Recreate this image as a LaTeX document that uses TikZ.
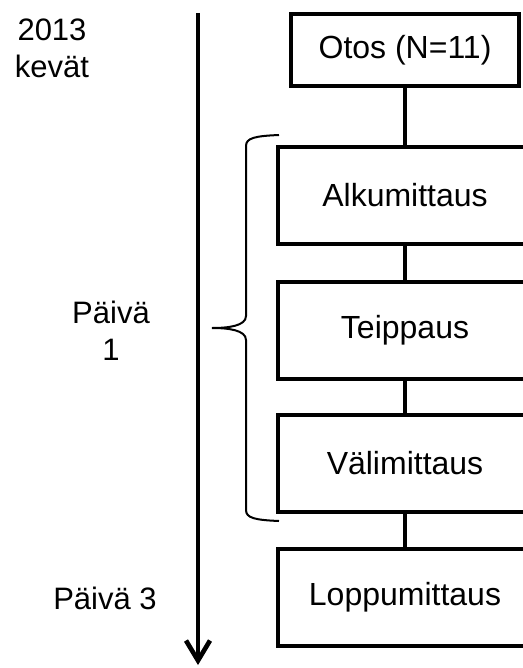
\documentclass[tikz,border=0pt]{standalone}
\usepackage{fontspec}
\setmainfont{Liberation Sans}
\usetikzlibrary{arrows.meta, positioning}

\begin{document}
\begin{tikzpicture}[x=0.5pt, y=-0.5pt,
  vaihe/.style={draw, line width=2.3pt, minimum width=127pt, minimum height=48.5pt, inner sep=0pt, font=\fontsize{16}{19}\selectfont},
  aika/.style={align=center, font=\fontsize{15.5}{18.3}\selectfont},
  yhteys/.style={line width=2.3pt}]
\clip (0,0) rectangle (523,668);

% aika-akseli
\coordinate (akselialku) at (198,13);
\coordinate (akseliloppu) at (198,665);
\draw[line width=2.3pt, -{Straight Barb[length=10pt,width=12pt]}] (akselialku) -- (akseliloppu);

% vaiheet
\node[vaihe, minimum width=114pt, minimum height=36pt] (otos) at (405,50) {Otos (N=11)};
\node[vaihe] (alku) at (405,195.5) {Alkumittaus};
\node[vaihe] (teippaus) at (405,330.5) {Teippaus};
\node[vaihe] (vali) at (405,463.5) {Välimittaus};
\node[vaihe] (loppu) at (405,597.5) {Loppumittaus};

\draw[yhteys] (otos) -- (alku);
\draw[yhteys] (alku) -- (teippaus);
\draw[yhteys] (teippaus) -- (vali);
\draw[yhteys] (vali) -- (loppu);

% aaltosulje
\draw[line width=1pt] (279,135) .. controls (255,136) and (246,138) .. (246,146)
  -- (246,316) .. controls (246,326) and (228,328) .. (212,328)
  .. controls (228,328) and (246,330) .. (246,340)
  -- (246,510) .. controls (246,518) and (255,520) .. (279,521);

% ajankohdat
\node[aika] (kevat) at (52,48.5) {2013\\kevät};
\node[aika] (paiva1) at (111,331) {Päivä\\1};
\node[aika] (paiva3) at (105,598) {Päivä 3};
\end{tikzpicture}
\end{document}
